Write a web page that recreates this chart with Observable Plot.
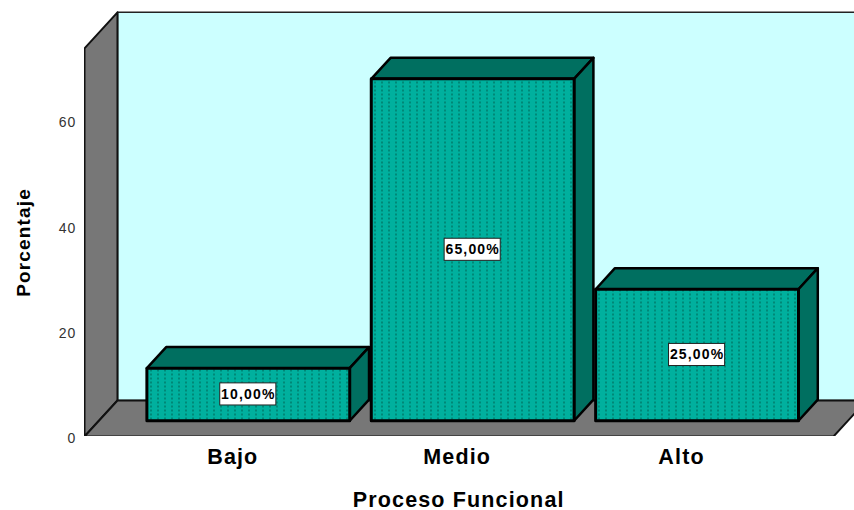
<!DOCTYPE html>
<html>
<head>
<meta charset="utf-8">
<script src="https://cdn.jsdelivr.net/npm/d3@7"></script>
<script src="https://cdn.jsdelivr.net/npm/@observablehq/plot@0.6"></script>
<style>html,body{margin:0;padding:0;background:#fff}svg{display:block}.c text{letter-spacing:1.15px}</style>
</head>
<body>
<div id="chart"></div>
<script>
const categories = ["Bajo", "Medio", "Alto"];
const values = [10, 65, 25];
const valueLabels = ["10,00%", "65,00%", "25,00%"];
const yTicks = [0, 20, 40, 60];

// Chart geometry in scale units (category index / percent)
const barHalf = 0.452, barDepthX = 0.086, barDepthY = 4.0, barBase = 3;
const roomLeft = -0.73, roomRight = 2.608, wallDepthX = 0.147, wallDepthY = 6.85, wallTop = 73.8;
const xDomain = [roomLeft, 2.7016], yDomain = [0, 82.9];

const poly = (id, pts) => [...pts, pts[0]].map(([x, y]) => ({id, x, y}));

const back = poly("back", [[roomLeft + wallDepthX, wallDepthY], [roomLeft + wallDepthX, wallTop + wallDepthY], [2.8, wallTop + wallDepthY], [2.8, wallDepthY]]);
const wall = poly("wall", [[roomLeft, 0], [roomLeft + wallDepthX, wallDepthY], [roomLeft + wallDepthX, wallTop + wallDepthY], [roomLeft, wallTop]]);
const floor = poly("floor", [[roomLeft, 0], [roomLeft + wallDepthX, wallDepthY], [roomRight + wallDepthX, wallDepthY], [roomRight, 0]]);

const fronts = values.flatMap((v, i) => poly("f" + i, [[i - barHalf, barBase], [i + barHalf, barBase], [i + barHalf, barBase + v], [i - barHalf, barBase + v]]));
const tops = values.flatMap((v, i) => poly("t" + i, [[i - barHalf, barBase + v], [i + barHalf, barBase + v], [i + barHalf + barDepthX, barBase + v + barDepthY], [i - barHalf + barDepthX, barBase + v + barDepthY]]));
const sides = values.flatMap((v, i) => poly("s" + i, [[i + barHalf, barBase], [i + barHalf + barDepthX, barBase + barDepthY], [i + barHalf + barDepthX, barBase + v + barDepthY], [i + barHalf, barBase + v]]));

const labelData = values.map((v, i) => ({i, y: barBase + v / 2, text: valueLabels[i]}));
const font = "Liberation Sans, Arial, sans-serif";

const defs = () => {
  const ns = "http://www.w3.org/2000/svg";
  const d = document.createElementNS(ns, "defs");
  d.innerHTML = `<pattern id="dots" patternUnits="userSpaceOnUse" width="7" height="4" x="0" y="0">
    <rect width="7" height="4" fill="#00B09E" shape-rendering="crispEdges"/>
    <rect x="3" y="1" width="1" height="2" fill="#005F50" shape-rendering="crispEdges"/>
  </pattern>`;
  return d;
};

const chart = Plot.plot({
  width: 854, height: 510,
  className: "c",
  marginLeft: 84, marginRight: 0, marginTop: 0, marginBottom: 74,
  style: {fontFamily: font, background: "#fff", overflow: "visible"},
  x: {domain: xDomain, axis: null},
  y: {domain: yDomain, axis: null},
  marks: [
    defs,
    Plot.line(back, {x: "x", y: "y", z: "id", fill: "#CCFFFF", stroke: "#222", strokeWidth: 1.5, clip: true}),
    Plot.line(wall, {x: "x", y: "y", z: "id", fill: "#777777", stroke: "#111", strokeWidth: 2, clip: true}),
    Plot.line(floor, {x: "x", y: "y", z: "id", fill: "#777777", stroke: "#111", strokeWidth: 2, clip: true}),
    Plot.line(tops, {x: "x", y: "y", z: "id", fill: "#006F60", stroke: "#000", strokeWidth: 2.5}),
    Plot.line(sides, {x: "x", y: "y", z: "id", fill: "#006F60", stroke: "#000", strokeWidth: 2.5}),
    Plot.line(fronts, {x: "x", y: "y", z: "id", fill: "url(#dots)", stroke: "#000", strokeWidth: 3}),
    Plot.rect(labelData, {
      x1: d => d.i - 0.125, x2: d => d.i + 0.125,
      y1: d => d.y - 2.1, y2: d => d.y + 2.1,
      fill: "#fff", stroke: "#222", strokeWidth: 1
    }),
    Plot.text(labelData, {x: "i", y: "y", text: "text", fontSize: 14, fontWeight: "bold", fill: "#000"}),
    Plot.axisY({ticks: yTicks, tickSize: 0, tickPadding: 8, label: null, fontSize: 14, color: "#333", dy: 2}),
    Plot.axisX({ticks: [0, 1, 2], tickFormat: i => categories[i], tickSize: 0, tickPadding: 12.5, dx: -15.5, label: null, fontSize: 21.5, fontWeight: "bold", color: "#000"}),
    Plot.text(["Proceso Funcional"], {x: [0.9376], y: [-12], text: d => d, fontSize: 21.5, fontWeight: "bold", fill: "#000"}),
    Plot.text(["Porcentaje"], {x: [-1.0], y: [36.9], text: d => d, rotate: -90, fontSize: 19, fontWeight: "bold", fill: "#000"})
  ]
});
document.getElementById("chart").append(chart);
</script>
</body>
</html>
